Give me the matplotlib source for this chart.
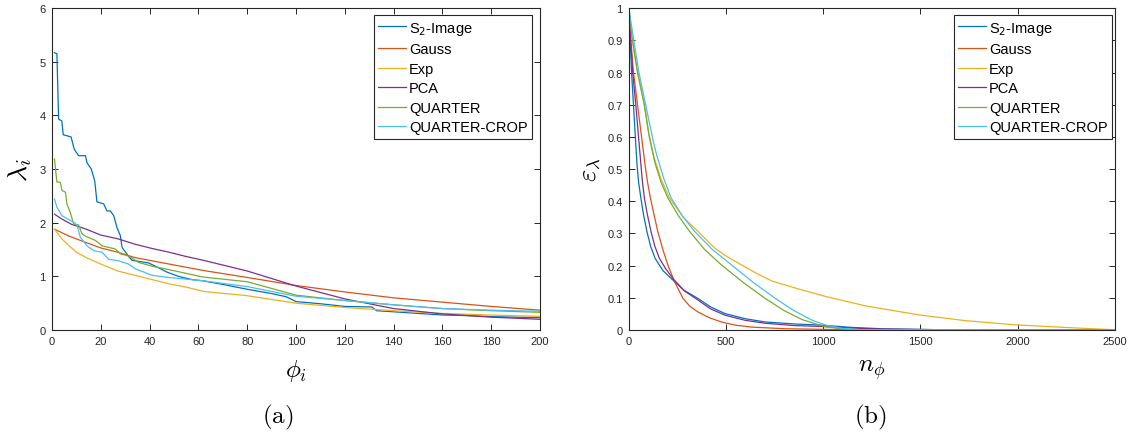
import matplotlib
matplotlib.use('Agg')
import matplotlib.pyplot as plt
from matplotlib.font_manager import FontProperties

plt.rcParams['mathtext.fontset'] = 'cm'
plt.rcParams['font.family'] = ['Liberation Sans', 'DejaVu Sans']

names = ['S$_2$-Image', 'Gauss', 'Exp', 'PCA', 'QUARTER', 'QUARTER-CROP']
colors = ['#0072BD', '#D95319', '#EDB120', '#7E2F8E', '#77AC30', '#4DBEEE']

# (a) eigenvalues lambda_i vs phi_i
s2_x = [1, 2, 2.7, 4, 4.6, 7.8, 9.1, 10.9, 13.7, 14.3, 16.1, 17.5, 18.4, 21.2, 22.5,
        23.9, 25.3, 26.6, 28, 28.7, 31.4, 32.8, 39.6, 43.7, 47.1, 51.9, 57.4, 61.5,
        70, 80, 90, 96, 100, 110, 120, 131, 133, 140, 150, 160, 170, 180, 190, 200]
s2_y = [5.17, 5.15, 3.93, 3.9, 3.64, 3.6, 3.37, 3.25, 3.25, 3.12, 3.0, 2.78, 2.39, 2.35, 2.22,
        2.22, 2.13, 1.91, 1.76, 1.54, 1.37, 1.3, 1.25, 1.16, 1.08, 1.0, 0.94, 0.92,
        0.85, 0.76, 0.68, 0.62, 0.53, 0.49, 0.44, 0.43, 0.36, 0.34, 0.31, 0.28, 0.27, 0.25, 0.24, 0.23]
gauss_x = [1, 7, 14, 20, 27, 34, 41, 48, 55, 62, 80, 100, 120, 140, 160, 180, 200]
gauss_y = [1.88, 1.75, 1.63, 1.53, 1.45, 1.35, 1.29, 1.23, 1.17, 1.11, 0.98, 0.83, 0.71, 0.60, 0.52, 0.44, 0.37]
exp_x = [1, 4, 7, 10, 14, 20, 27, 34, 41, 48, 55, 62, 80, 100, 120, 140, 160, 180, 200]
exp_y = [1.88, 1.70, 1.57, 1.45, 1.35, 1.23, 1.10, 1.02, 0.94, 0.86, 0.80, 0.72, 0.64, 0.50, 0.42, 0.36, 0.31, 0.28, 0.255]
pca_x = [1, 4, 8, 14, 20, 27, 34, 41, 48, 55, 62, 80, 100, 120, 140, 160, 180, 200]
pca_y = [2.16, 2.07, 1.97, 1.88, 1.77, 1.70, 1.60, 1.52, 1.45, 1.37, 1.30, 1.10, 0.82, 0.58, 0.40, 0.30, 0.24, 0.20]
qt_x = [1, 2, 3.4, 4.1, 5.5, 6.1, 7.5, 8.9, 10.9, 12.3, 13.7, 17.8, 20.5, 26, 28, 31.4, 35.5,
        41, 46.4, 54.6, 61.5, 80, 100, 120, 140, 160, 180, 200]
qt_y = [3.19, 2.76, 2.75, 2.60, 2.57, 2.35, 2.19, 1.97, 1.96, 1.79, 1.75, 1.67, 1.57, 1.51, 1.42, 1.38, 1.26,
        1.19, 1.14, 1.06, 0.99, 0.90, 0.65, 0.55, 0.47, 0.40, 0.36, 0.33]
qc_x = [1, 2, 4.1, 6.8, 8.9, 10.2, 11.6, 14.3, 17.1, 20.5, 23.2, 27.3, 31.4, 34.2, 41, 47.8,
        54.6, 61.5, 80, 100, 120, 140, 160, 180, 200]
qc_y = [2.44, 2.29, 2.13, 2.06, 2.01, 1.96, 1.73, 1.57, 1.48, 1.45, 1.32, 1.29, 1.23, 1.14, 1.02, 0.98,
        0.95, 0.92, 0.81, 0.63, 0.55, 0.47, 0.40, 0.37, 0.35]

# (b) residual energy eps_lambda vs n_phi
s2_n = [0, 7, 14, 24, 36, 42, 50, 62, 75, 93, 112, 135, 175, 218, 280, 356, 420, 495, 600,
        702, 850, 996, 1150, 1300, 1600, 2500]
s2_e = [1.0, 0.905, 0.80, 0.698, 0.573, 0.515, 0.46, 0.41, 0.36, 0.306, 0.26, 0.223, 0.185, 0.16,
        0.125, 0.098, 0.072, 0.051, 0.035, 0.025, 0.019, 0.015, 0.008, 0.004, 0.001, 0]
gauss_n = [0, 10, 24, 45, 71, 83, 96, 111, 129, 149, 175, 201, 235, 279, 315, 356, 415, 477,
           550, 633, 806, 1014, 1300, 2500]
gauss_e = [1.0, 0.905, 0.80, 0.698, 0.573, 0.515, 0.46, 0.41, 0.36, 0.306, 0.25, 0.202, 0.15,
           0.098, 0.073, 0.056, 0.038, 0.025, 0.015, 0.009, 0.004, 0.002, 0, 0]
exp_n = [0, 17, 45, 80, 100, 128, 165, 209, 280, 356, 443, 510, 581, 660, 737, 876, 1014,
         1218, 1493, 1733, 1991, 2248, 2384, 2500]
exp_e = [1.0, 0.905, 0.80, 0.70, 0.62, 0.54, 0.47, 0.41, 0.35, 0.306, 0.254, 0.226, 0.202,
         0.175, 0.152, 0.127, 0.104, 0.075, 0.047, 0.029, 0.016, 0.008, 0.004, 0.001]
pca_n = [0, 8, 20, 36, 50, 62, 70, 80, 95, 114, 134, 157, 190, 227, 285, 356, 420, 495, 600,
         702, 850, 996, 1150, 1300, 1600, 2500]
pca_e = [1.0, 0.905, 0.80, 0.698, 0.60, 0.515, 0.46, 0.41, 0.36, 0.306, 0.26, 0.223, 0.19, 0.16,
         0.122, 0.093, 0.066, 0.046, 0.03, 0.021, 0.014, 0.011, 0.006, 0.003, 0.001, 0]
qt_n = [0, 17, 45, 80, 105, 134, 165, 201, 255, 313, 390, 477, 590, 702, 800, 893, 1005,
        1100, 1200, 2500]
qt_e = [1.0, 0.905, 0.80, 0.698, 0.6, 0.52, 0.46, 0.41, 0.355, 0.306, 0.25, 0.202, 0.147,
        0.098, 0.06, 0.032, 0.011, 0.003, 0, 0]
qc_n = [0, 24, 52, 87, 128, 145, 180, 218, 275, 339, 430, 529, 640, 754, 850, 945, 1014,
        1100, 1200, 2500]
qc_e = [1.0, 0.905, 0.80, 0.698, 0.58, 0.54, 0.47, 0.41, 0.355, 0.306, 0.25, 0.202, 0.148,
        0.098, 0.06, 0.03, 0.015, 0.005, 0.001, 0]

xticks_a = [0, 20, 40, 60, 80, 100, 120, 140, 160, 180, 200]
yticks_a = [0, 1, 2, 3, 4, 5, 6]
xticks_b = [0, 500, 1000, 1500, 2000, 2500]
yticks_b = [0, 0.1, 0.2, 0.3, 0.4, 0.5, 0.6, 0.7, 0.8, 0.9, 1]
ylabels_b = ['0', '0.1', '0.2', '0.3', '0.4', '0.5', '0.6', '0.7', '0.8', '0.9', '1']

fig = plt.figure(figsize=(11.31, 4.35), dpi=100)
ax1 = fig.add_axes([0.046, 0.239, 0.4315, 0.740])
ax2 = fig.add_axes([0.556, 0.239, 0.4297, 0.740])

series_a = [(s2_x, s2_y), (gauss_x, gauss_y), (exp_x, exp_y), (pca_x, pca_y), (qt_x, qt_y), (qc_x, qc_y)]
series_b = [(s2_n, s2_e), (gauss_n, gauss_e), (exp_n, exp_e), (pca_n, pca_e), (qt_n, qt_e), (qc_n, qc_e)]

for (x, y), c, nm in zip(series_a, colors, names):
    ax1.plot(x, y, color=c, lw=0.9, label=nm)
for (x, y), c, nm in zip(series_b, colors, names):
    ax2.plot(x, y, color=c, lw=0.9, label=nm)

dark = '#262626'
for ax in (ax1, ax2):
    for sp in ax.spines.values():
        sp.set_color(dark)
        sp.set_linewidth(0.8)
    ax.tick_params(direction='in', length=4, width=0.7, colors=dark, labelsize=8,
                   top=True, right=True, pad=4.5)

ax1.set_xlim(0, 200)
ax1.set_ylim(0, 6)
ax1.set_xticks(xticks_a)
ax1.set_yticks(yticks_a)
ax2.set_xlim(0, 2500)
ax2.set_ylim(0, 1)
ax2.set_xticks(xticks_b)
ax2.set_yticks(yticks_b)
ax2.set_yticklabels(ylabels_b)

ax1.set_ylabel(r'$\lambda_i$', fontsize=20)
ax1.yaxis.set_label_coords(-0.036, 0.5)
ax1.set_xlabel(r'$\phi_i$', fontsize=18)
ax1.xaxis.set_label_coords(0.5, -0.084)
ax2.set_ylabel(r'$\varepsilon_\lambda$', fontsize=19)
ax2.yaxis.set_label_coords(-0.053, 0.5)
ax2.set_xlabel(r'$n_\phi$', fontsize=18)
ax2.xaxis.set_label_coords(0.5, -0.084)

fig.text(0.2458, 0.041, r'$\mathrm{(a)}$', fontsize=18, ha='center', va='center')
fig.text(0.7692, 0.041, r'$\mathrm{(b)}$', fontsize=18, ha='center', va='center')

lp = FontProperties(family='Liberation Sans', size=10.5, math_fontfamily='dejavusans')
for ax, bx in ((ax1, 0.9836), (ax2, 0.9938)):
    leg = ax.legend(loc='upper right', bbox_to_anchor=(bx, 0.978), borderaxespad=0,
                    prop=lp, fancybox=False, framealpha=1, edgecolor=dark,
                    handlelength=1.9, handletextpad=0.2, labelspacing=0.38,
                    borderpad=0.3)
    leg.get_frame().set_linewidth(0.8)

fig.savefig('out.png', dpi=100)
